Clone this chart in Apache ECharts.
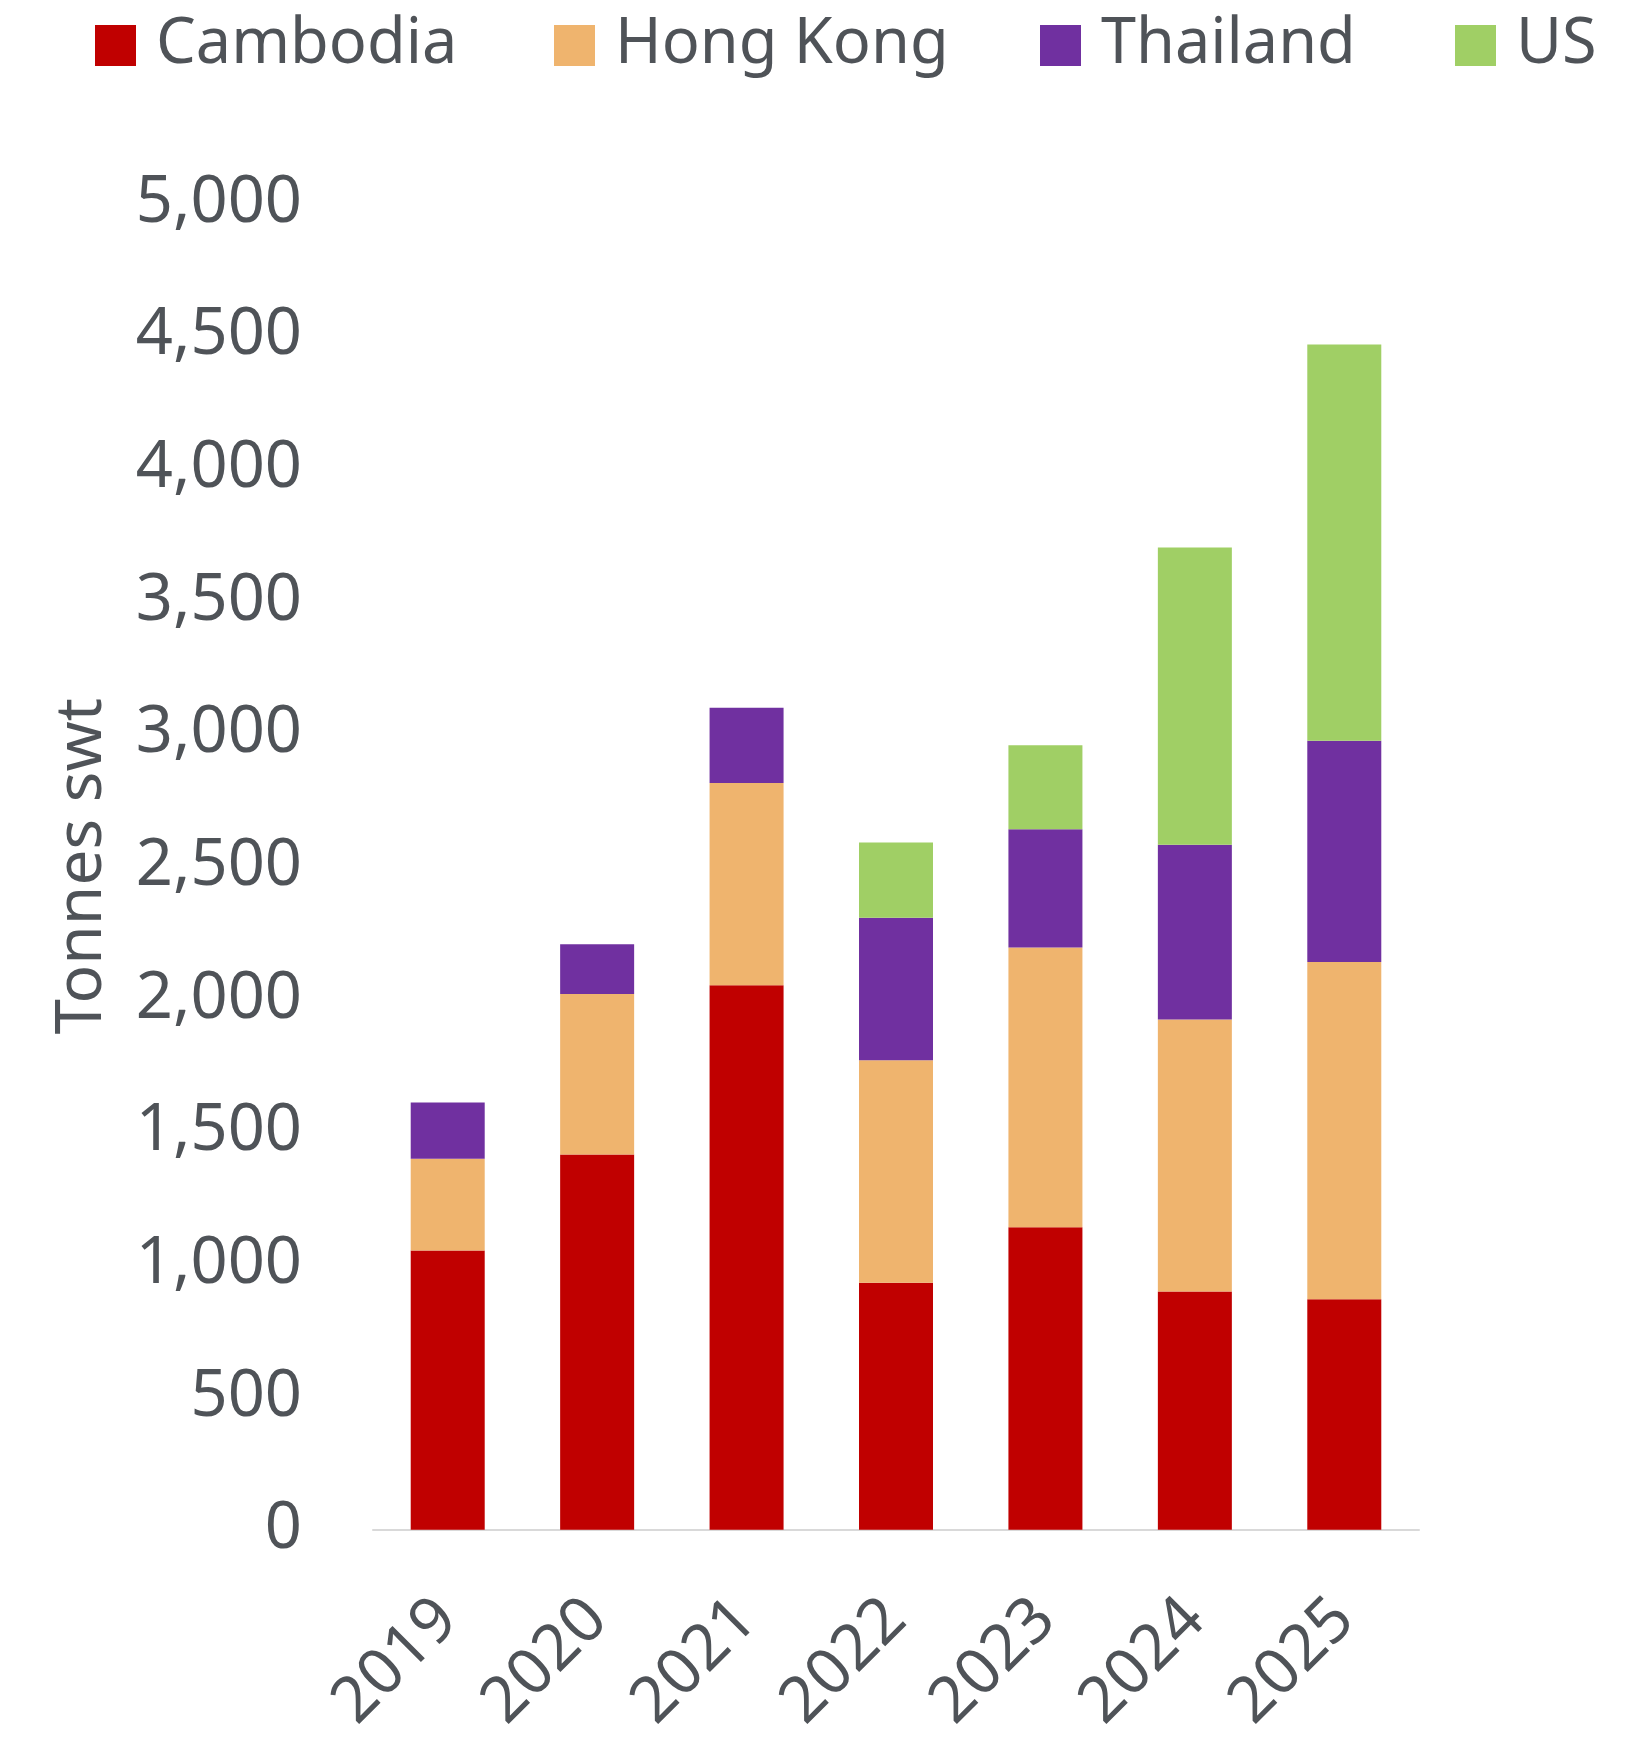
<!DOCTYPE html>
<html>
<head>
<meta charset="utf-8">
<script src="https://cdn.jsdelivr.net/npm/echarts@6/dist/echarts.min.js"></script>
<style>
    html, body { margin: 0; padding: 0; background: #fff; }
    #chart { width: 1641px; height: 1738px; }
</style>
</head>
<body>
<div id="chart"></div>
<script>
    // years on the x axis
    const years = ['2019', '2020', '2021', '2022', '2023', '2024', '2025']
    // tonnes swt, one array per destination (stacked)
    const cambodia = [1052, 1414, 2052, 931, 1140, 898, 869]
    const hongKong = [346, 605, 762, 838, 1054, 1025, 1271]
    const thailand = [212, 187, 284, 537, 446, 658, 833]
    const us = [null, null, null, 284, 316, 1121, 1494]

    const textColor = '#4f5358'
    const font = '"Noto Sans", "Open Sans", sans-serif'

    const names = ['Cambodia', 'Hong Kong', 'Thailand', 'US']
    const colors = ['#c00000', '#efb46e', '#7030a0', '#a0cf65']
    const legendLeft = [95, 554, 1040, 1455]

    function legendFor(i) {
        return {
            data: [names[i]],
            left: legendLeft[i],
            top: 14,
            padding: 0,
            itemWidth: 41,
            itemHeight: 41,
            itemGap: 0,
            icon: 'rect',
            textStyle: {
                color: textColor,
                fontFamily: font,
                fontSize: 63,
                padding: [0, 0, 0, 15]
            }
        }
    }

    function seriesFor(name, data, i) {
        return {
            name: name,
            type: 'bar',
            stack: 'total',
            barWidth: 74,
            data: data,
            itemStyle: {color: colors[i]}
        }
    }

    const chart = echarts.init(document.getElementById('chart'))
    chart.setOption({
        animation: false,
        legend: [legendFor(0), legendFor(1), legendFor(2), legendFor(3)],
        grid: {left: 373, right: 222, top: 203, bottom: 206, containLabel: false},
        xAxis: {
            type: 'category',
            data: years,
            axisLine: {lineStyle: {color: '#d9d9d9', width: 2}},
            axisTick: {show: false},
            axisLabel: {
                rotate: 45,
                margin: 80,
                color: textColor,
                fontFamily: font,
                fontSize: 64
            }
        },
        yAxis: {
            type: 'value',
            min: 0,
            max: 5000,
            interval: 500,
            name: 'Tonnes swt',
            nameLocation: 'middle',
            nameRotate: 90,
            nameGap: 258,
            nameTextStyle: {
                color: textColor,
                fontFamily: font,
                fontSize: 64
            },
            axisLine: {show: false},
            axisTick: {show: false},
            splitLine: {show: false},
            axisLabel: {
                margin: 71,
                color: textColor,
                fontFamily: font,
                fontSize: 65,
                formatter: v => v.toLocaleString('en-US')
            }
        },
        series: [
            seriesFor('Cambodia', cambodia, 0),
            seriesFor('Hong Kong', hongKong, 1),
            seriesFor('Thailand', thailand, 2),
            seriesFor('US', us, 3)
        ]
    })
</script>
</body>
</html>
